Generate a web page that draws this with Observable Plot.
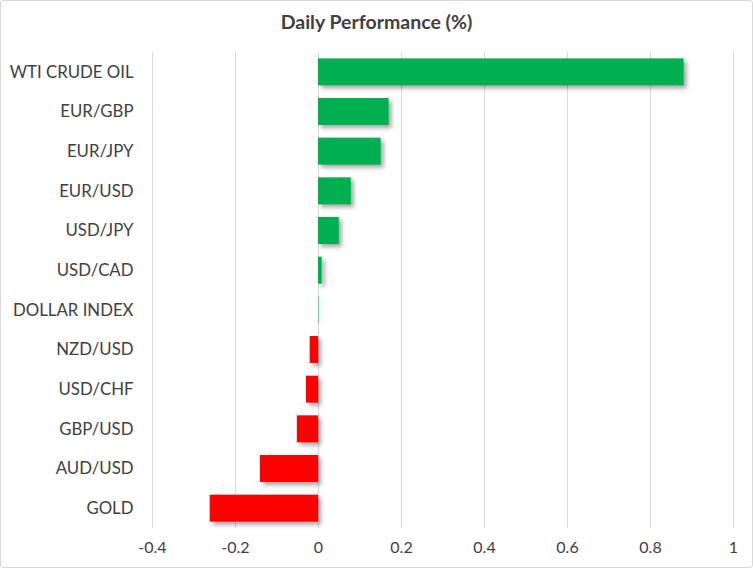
<!DOCTYPE html>
<html>
<head>
<meta charset="utf-8">
<script src="https://cdn.jsdelivr.net/npm/d3@7"></script>
<script src="https://cdn.jsdelivr.net/npm/@observablehq/plot@0.6"></script>
<style>
  html, body { margin: 0; padding: 0; background: #fff; }
  #frame { position: relative; width: 753px; height: 568px; box-sizing: border-box; overflow: hidden; }
  #frame::after { content: ""; position: absolute; inset: 0; border: 1px solid #d9d9d9; border-radius: 3px; pointer-events: none; }
  #title { position: absolute; left: 0; top: 0; width: 753px; height: 36px; text-align: center; font-family: Lato, "Open Sans", sans-serif; font-weight: bold; font-size: 19.5px; color: #404040; line-height: 44px; }
  #chart { position: absolute; left: 0; top: 36px; }
  #chart svg { display: block; }
</style>
</head>
<body>
<div id="frame">
  <div id="title">Daily Performance (%)</div>
  <div id="chart"></div>
</div>
<script>
const categories = ["WTI CRUDE OIL", "EUR/GBP", "EUR/JPY", "EUR/USD", "USD/JPY", "USD/CAD", "DOLLAR INDEX", "NZD/USD", "USD/CHF", "GBP/USD", "AUD/USD", "GOLD"];
const values = [0.881, 0.170, 0.151, 0.079, 0.050, 0.009, 0.001, -0.020, -0.029, -0.051, -0.140, -0.261];
const xTicks = [-0.4, -0.2, 0, 0.2, 0.4, 0.6, 0.8, 1];

const data = categories.map((c, i) => ({category: c, value: values[i]}));

const plot = Plot.plot({
  width: 753,
  height: 530,
  marginTop: 16,
  marginBottom: 38,
  marginLeft: 152,
  marginRight: 20,
  style: {fontFamily: "Lato, 'Open Sans', sans-serif", fontSize: "16.8px", color: "#404040", background: "transparent"},
  x: {domain: [-0.4, 1], ticks: xTicks, tickFormat: d => String(d), label: null},
  y: {domain: categories, label: null, paddingInner: 0.32, paddingOuter: 0.16, round: false},
  marks: [
    Plot.gridX(xTicks, {stroke: "#d9d9d9", strokeOpacity: 1, strokeWidth: 1}),
    Plot.axisX({ticks: xTicks, tickFormat: d => String(d), tickSize: 0, tickPadding: 13, label: null, fontSize: 16}),
    Plot.axisY({tickSize: 0, tickPadding: 19, label: null, fontSize: 16.8}),
    Plot.barX(data, {x: "value", y: "category", fill: d => d.value >= 0 ? "#00B050" : "#FF0000", className: "bars"})
  ]
});
document.getElementById("chart").appendChild(plot);
d3.select(plot).selectAll("g.bars").style("filter", "drop-shadow(3px 3px 2px rgba(0,0,0,0.35))");
</script>
</body>
</html>
